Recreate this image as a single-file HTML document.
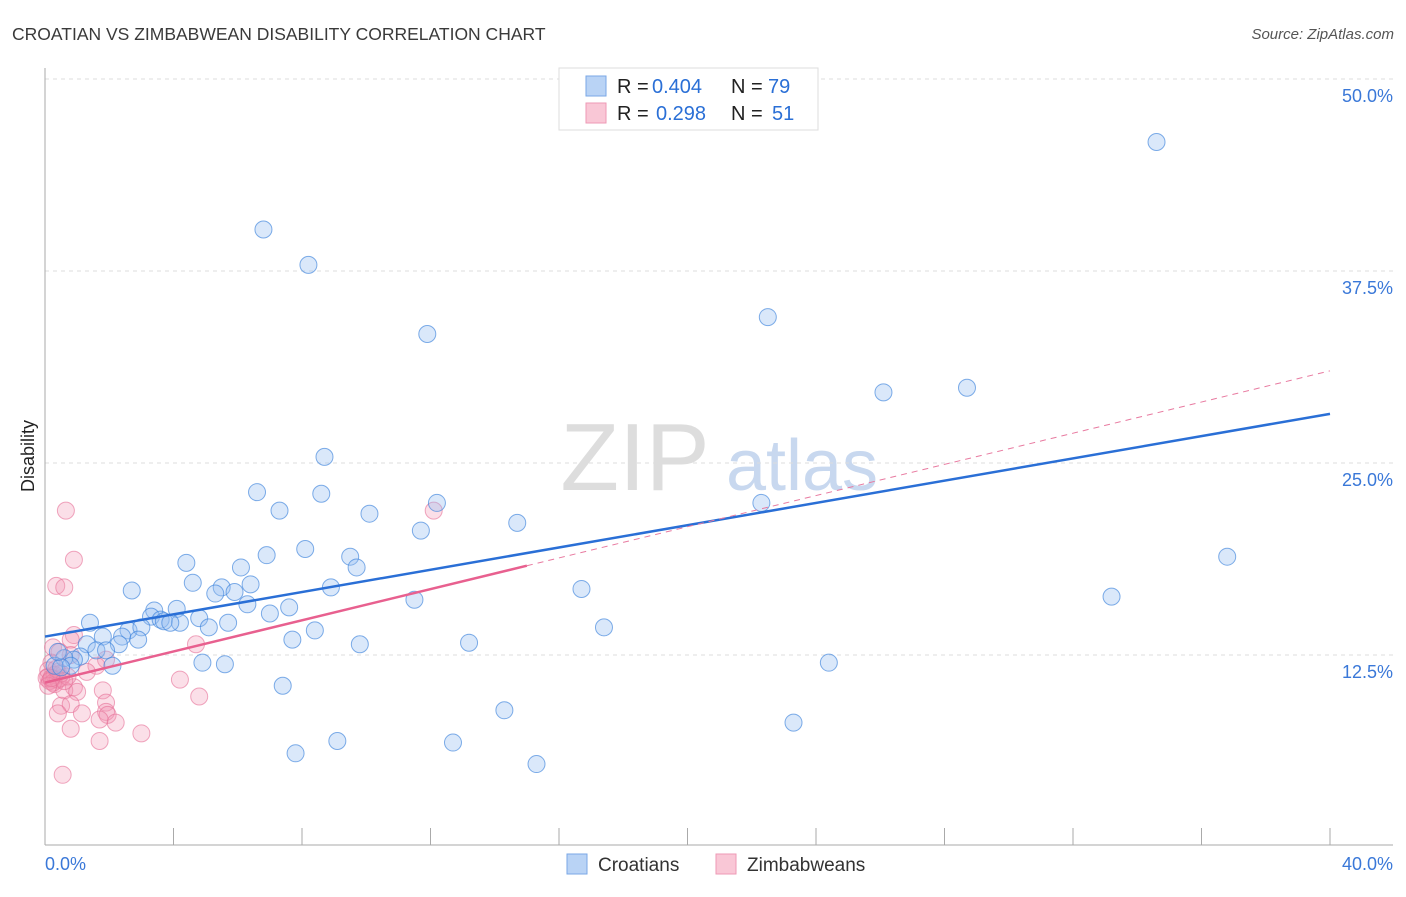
<!DOCTYPE html>
<html><head><meta charset="utf-8"><style>
body{margin:0;background:#fff;font-family:"Liberation Sans",sans-serif}
svg text{font-family:"Liberation Sans",sans-serif}
</style></head><body>
<svg id="chart" width="1406" height="892">
<text x="12" y="40" font-size="17.5" fill="#3a3a3a">CROATIAN VS ZIMBABWEAN DISABILITY CORRELATION CHART</text>
<text x="1394" y="39" font-size="15" fill="#555" text-anchor="end" font-style="italic">Source: ZipAtlas.com</text>
<text x="0" y="0" font-size="18" fill="#222" transform="translate(34,456) rotate(-90)" text-anchor="middle">Disability</text>
<g><text x="635" y="490" font-size="96" fill="#ddd" text-anchor="middle" font-family="Liberation Serif">ZIP</text><text x="802" y="490" font-size="72" fill="#c8d8ef" text-anchor="middle">atlas</text></g>
<g id="grid"></g><g id="axes"></g><g id="pts"></g><g id="lines"></g>
<g>
<rect x="559" y="68" width="259" height="62" fill="#fff" stroke="#ddd"/>
<rect x="586" y="76" width="20" height="20" fill="#b9d3f5" stroke="#7aa7e6"/>
<rect x="586" y="103" width="20" height="20" fill="#f9c7d6" stroke="#ee9ab5"/>
<text x="617" y="93" font-size="20" fill="#222">R =</text>
<text x="652" y="93" font-size="20" fill="#2a6fd6">0.404</text>
<text x="731" y="93" font-size="20" fill="#222">N =</text>
<text x="768" y="93" font-size="20" fill="#2a6fd6">79</text>
<text x="617" y="120" font-size="20" fill="#222">R =</text>
<text x="656" y="120" font-size="20" fill="#2a6fd6">0.298</text>
<text x="731" y="120" font-size="20" fill="#222">N =</text>
<text x="772" y="120" font-size="20" fill="#2a6fd6">51</text>
</g>
<g>
<rect x="567" y="854" width="20" height="20" fill="#b9d3f5" stroke="#7aa7e6"/>
<text x="598" y="871" font-size="19" fill="#333">Croatians</text>
<rect x="716" y="854" width="20" height="20" fill="#f9c7d6" stroke="#ee9ab5"/>
<text x="747" y="871" font-size="19" fill="#333">Zimbabweans</text>
</g>
</svg>
<script>
const yTicks=[12.5,25,37.5,50];
const yTickLabels=["12.5%","25.0%","37.5%","50.0%"];
const xTickLabels=["0.0%","40.0%"];
const blueX=[34.6,6.8,8.2,11.9,22.5,26.1,28.7,8.7,6.6,8.6,12.2,7.3,10.1,14.7,22.3,11.7,36.8,8.1,6.9,9.5,4.4,6.1,9.7,4.6,6.4,8.9,5.5,16.7,2.7,5.3,5.9,33.2,11.5,6.3,7.6,3.4,4.1,3.3,3.6,7.0,4.8,3.7,4.2,3.9,5.7,1.4,5.1,17.4,8.4,2.6,3.0,2.4,1.8,2.9,7.7,13.2,9.8,1.3,2.3,1.6,1.9,1.1,0.9,0.6,0.3,0.8,2.1,4.9,5.6,24.4,0.5,7.4,14.3,23.3,9.1,12.7,7.8,15.3,0.4];
const blueY=[45.9,40.2,37.9,33.4,34.5,29.6,29.9,25.4,23.1,23.0,22.4,21.9,21.7,21.1,22.4,20.6,18.9,19.4,19.0,18.9,18.5,18.2,18.2,17.2,17.1,16.9,16.9,16.8,16.7,16.5,16.6,16.3,16.1,15.8,15.6,15.4,15.5,15.0,14.8,15.2,14.9,14.7,14.6,14.6,14.6,14.6,14.3,14.3,14.1,14.1,14.3,13.7,13.7,13.5,13.5,13.3,13.2,13.2,13.2,12.8,12.8,12.4,12.2,12.3,11.8,11.8,11.8,12.0,11.9,12.0,11.7,10.5,8.9,8.1,6.9,6.8,6.1,5.4,12.7];
const pinkX=[0.65,0.9,0.35,0.6,12.1,0.9,0.8,0.25,4.7,1.9,0.8,1.6,1.3,0.4,0.1,0.2,0.5,0.3,4.2,0.9,0.6,1.0,1.8,4.8,1.9,1.9,0.5,0.8,1.15,1.95,0.4,1.7,2.2,0.8,1.7,3.0,0.55,0.2,0.1,0.05,0.3,0.15,0.4,0.7,0.25,0.5,0.1,0.35,0.6,0.2,0.45];
const pinkY=[21.9,18.7,17.0,16.9,21.9,13.8,13.5,13.0,13.2,12.2,12.5,11.8,11.4,11.4,11.1,10.9,11.0,10.6,10.9,10.4,10.2,10.1,10.2,9.8,9.4,8.8,9.2,9.3,8.7,8.6,8.7,8.3,8.1,7.7,6.9,7.4,4.7,12.0,11.5,11.0,11.2,10.8,10.9,11.1,10.7,11.3,10.5,11.6,10.8,11.0,12.7];
const blueTrend=[13.7,28.2];
const pinkTrend=[10.7,31.0];
const pinkSolidEnd=15;
const NS="http://www.w3.org/2000/svg";
const X=v=>45+v*32.125, Y=v=>847-v*15.36;
function mk(t,a,p){const e=document.createElementNS(NS,t);for(const k in a)e.setAttribute(k,a[k]);p.appendChild(e);return e;}
const grid=document.getElementById('grid'),axes=document.getElementById('axes');
yTicks.forEach((t,i)=>{
 const l=mk('line',{x1:45,x2:1393,y1:Y(t),y2:Y(t),stroke:'#ddd','stroke-dasharray':'4,4'},grid);
 
 
 const tx=mk('text',{x:1393,y:Y(t)+23,'font-size':18,fill:'#3a78d8','text-anchor':'end'},axes);
 tx.textContent=yTickLabels[i];
 
 
});
mk('line',{x1:45,x2:45,y1:68,y2:845,stroke:'#aaa'},axes);
mk('line',{x1:45,x2:1393,y1:845,y2:845,stroke:'#aaa'},axes);
for(let i=1;i<=10;i++){const t=mk('line',{x1:X(i*4),x2:X(i*4),y1:828,y2:845,stroke:'#aaa'},axes);
 
 }
[[0,45,'start'],[40,1393,'end']].forEach((d,i)=>{const tx=mk('text',{x:d[1],y:870,'font-size':18,fill:'#3a78d8','text-anchor':d[2]},axes);tx.textContent=xTickLabels[i];
 
 });
const pts=document.getElementById('pts');
pinkX.forEach((x,i)=>{const c=mk('circle',{cx:X(x),cy:Y(pinkY[i]),r:8.5,fill:'rgba(243,150,180,0.3)',stroke:'rgba(230,110,150,0.6)'},pts);
 
 });
blueX.forEach((x,i)=>{const c=mk('circle',{cx:X(x),cy:Y(blueY[i]),r:8.5,fill:'rgba(150,190,240,0.35)',stroke:'rgba(60,130,220,0.65)'},pts);
 
 });
const lines=document.getElementById('lines');
const pt=x=>pinkTrend[0]+(pinkTrend[1]-pinkTrend[0])*x/40;
const bl=mk('line',{x1:X(0),y1:Y(blueTrend[0]),x2:X(40),y2:Y(blueTrend[1]),stroke:'#2a6fd6','stroke-width':2.5},lines);


const pd=mk('line',{x1:X(pinkSolidEnd),y1:Y(pt(pinkSolidEnd)),x2:X(40),y2:Y(pinkTrend[1]),stroke:'#e87aa0','stroke-width':1,'stroke-dasharray':'6,5'},lines);


const ps=mk('line',{x1:X(0),y1:Y(pinkTrend[0]),x2:X(pinkSolidEnd),y2:Y(pt(pinkSolidEnd)),stroke:'#e8608f','stroke-width':2.5},lines);


</script>
</body></html>
